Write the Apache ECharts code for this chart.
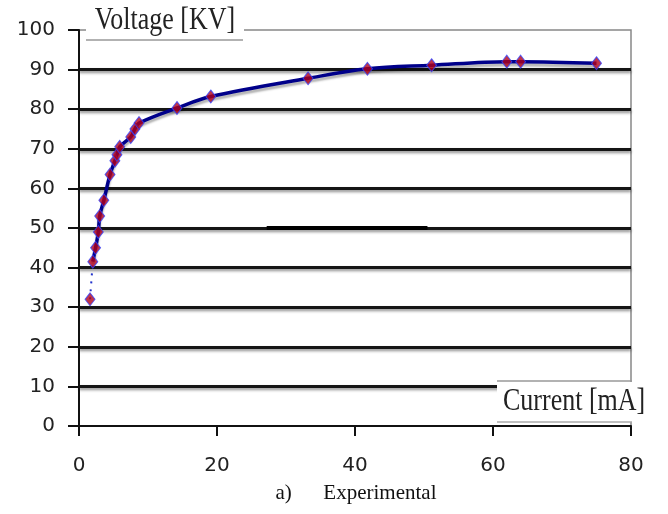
<!DOCTYPE html>
<html>
<head>
<meta charset="utf-8">
<script src="https://cdn.jsdelivr.net/npm/echarts@6/dist/echarts.min.js"></script>
<style>
html,body{margin:0;padding:0;background:#fff;}
#c{width:668px;height:514px;}
</style>
</head>
<body>
<div id="c"></div>
<script>
// Data
const currentMA = [1.6, 2.0, 2.4, 2.8, 3.0, 3.6, 4.5, 5.2, 5.5, 5.9, 7.5, 8.1, 8.7, 14.2, 19.1, 33.2, 41.8, 51.1, 62.0, 64.0, 75.0];
const voltageKV = [32, 41.5, 45, 49, 53, 57, 63.5, 67, 68.5, 70.5, 73, 75, 76.5, 80.3, 83.2, 87.8, 90.2, 91.1, 92.0, 92.0, 91.6];
const xTicks = [0, 20, 40, 60, 80];
const yTicks = [0, 10, 20, 30, 40, 50, 60, 70, 80, 90, 100];
const yTitle = 'Voltage [KV]';
const xTitle = 'Current [mA]';
const caption = 'a)      Experimental';
// stray thick segment seen on the 50 kV gridline (x range in mA)
const straySegment = [[27.2, 50], [50.5, 50]];

const pts = currentMA.map((x, i) => [x, voltageKV[i]]);
const mainPts = pts.slice(1);
const firstGap = pts.slice(0, 2);

const chart = echarts.init(document.getElementById('c'), null, {renderer: 'canvas'});
const labelFont = {fontFamily: 'DejaVu Sans', fontSize: 20, color: '#222'};

chart.setOption({
  animation: false,
  backgroundColor: '#fff',
  grid: {left: 79, right: 37, top: 30, bottom: 88, show: true, borderColor: '#888', borderWidth: 1.5, backgroundColor: 'transparent'},
  xAxis: {
    type: 'value', min: xTicks[0], max: xTicks[xTicks.length - 1], interval: 20,
    axisLine: {lineStyle: {color: '#111', width: 2}},
    axisTick: {show: true, length: 10, lineStyle: {color: '#111', width: 2}},
    axisLabel: Object.assign({margin: 30, formatter: v => xTicks.includes(v) ? String(v) : ''}, labelFont),
    splitLine: {show: false}
  },
  yAxis: {
    type: 'value', min: yTicks[0], max: yTicks[yTicks.length - 1], interval: 10,
    axisLine: {show: true, lineStyle: {color: '#111', width: 2}},
    axisTick: {show: true, length: 11, lineStyle: {color: '#111', width: 2}},
    axisLabel: Object.assign({margin: 24, formatter: v => yTicks.includes(v) ? String(v) : ''}, labelFont),
    splitLine: {show: true, showMinLine: false, showMaxLine: false,
      lineStyle: {color: '#151515', width: 3, shadowColor: 'rgba(0,0,0,0.45)', shadowBlur: 3, shadowOffsetY: 2}}
  },
  series: [
    {
      type: 'line', data: straySegment, symbol: 'none', silent: true, z: 1,
      lineStyle: {color: '#000', width: 4}
    },
    {
      type: 'line', data: firstGap, symbol: 'none', z: 2,
      lineStyle: {color: '#2233cc', width: 2, type: [2, 6]}
    },
    {
      type: 'line', data: mainPts, smooth: 0.35, symbol: 'none', z: 3,
      lineStyle: {color: '#00008a', width: 3.5, shadowColor: 'rgba(0,0,0,0.3)', shadowBlur: 2, shadowOffsetY: 3}
    },
    {
      type: 'scatter', data: pts, symbol: 'diamond', symbolSize: [10, 13], z: 4,
      itemStyle: {color: '#b0001a', borderColor: '#3344ff', borderWidth: 1}
    }
  ],
  graphic: [
    {type: 'rect', z: 100, shape: {x: 86, y: 2, width: 158, height: 37}, style: {fill: '#fff'}},
    {type: 'line', z: 101, shape: {x1: 86, y1: 40, x2: 243, y2: 40}, style: {stroke: '#999', lineWidth: 1.5}},
    {type: 'text', z: 102, x: 165, y: 21, scaleY: 1.22, style: {text: yTitle, fontFamily: 'Liberation Serif', fontSize: 26, fill: '#222', align: 'center', verticalAlign: 'middle'}},
    {type: 'rect', z: 100, shape: {x: 497, y: 382, width: 171, height: 40}, style: {fill: '#fff'}},
    {type: 'line', z: 101, shape: {x1: 497, y1: 381, x2: 632, y2: 381}, style: {stroke: '#999', lineWidth: 1.5}},
    {type: 'line', z: 101, shape: {x1: 497, y1: 422, x2: 632, y2: 422}, style: {stroke: '#aaa', lineWidth: 1.5}},
    {type: 'text', z: 102, x: 503, y: 402, scaleY: 1.22, style: {text: xTitle, fontFamily: 'Liberation Serif', fontSize: 26, fill: '#222', align: 'left', verticalAlign: 'middle'}},
    {type: 'text', z: 102, x: 356, y: 493, style: {text: caption, fontFamily: 'Liberation Serif', fontSize: 21, fill: '#111', align: 'center', verticalAlign: 'middle'}}
  ]
});
</script>
</body>
</html>
